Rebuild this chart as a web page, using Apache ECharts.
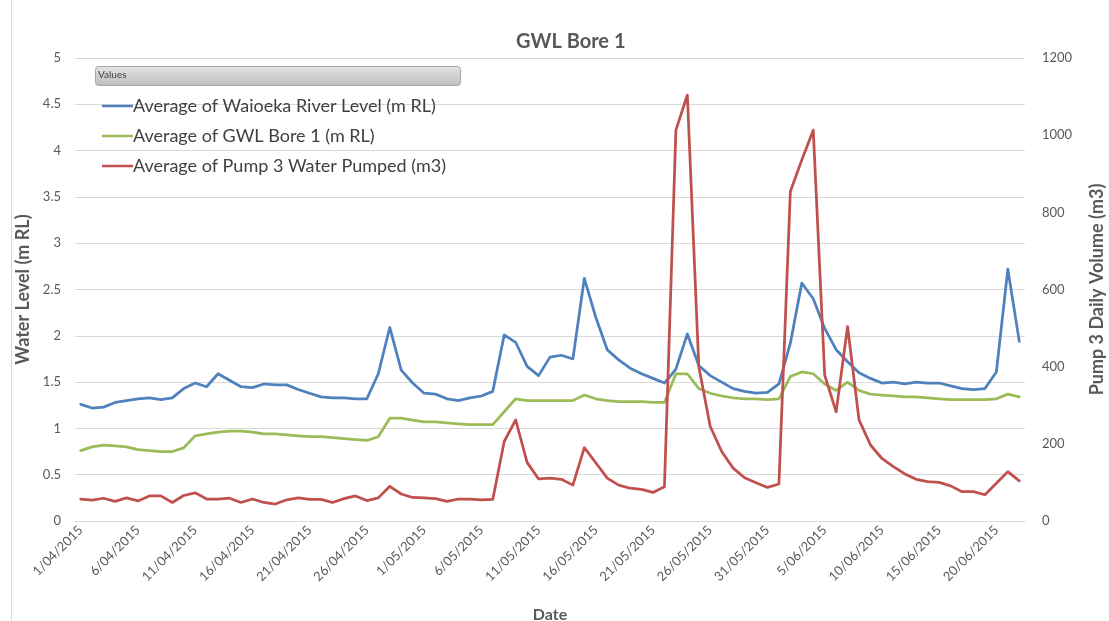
<!DOCTYPE html>
<html>
<head>
<meta charset="utf-8">
<title>GWL Bore 1</title>
<script src="https://cdn.jsdelivr.net/npm/echarts@6/dist/echarts.min.js"></script>
<style>
  html, body { margin: 0; padding: 0; background: #ffffff; }
  #chart { width: 1109px; height: 621px; }
</style>
</head>
<body>
<div id="chart"></div>
<script>
// Daily dates, 1 April 2015 to 22 June 2015
const startDate = new Date(2015, 3, 1);
const dayCount = 83;
const dates = [];
for (let i = 0; i < dayCount; i++) {
  const d = new Date(startDate.getFullYear(), startDate.getMonth(), startDate.getDate() + i);
  const mm = String(d.getMonth() + 1).padStart(2, '0');
  dates.push(d.getDate() + '/' + mm + '/' + d.getFullYear());
}

// Average of Waioeka River Level (m RL)
const riverLevel = [
  1.26, 1.22, 1.23, 1.28, 1.30, 1.32, 1.33, 1.31, 1.33, 1.43,
  1.49, 1.45, 1.59, 1.52, 1.45, 1.44, 1.48, 1.47, 1.47, 1.42,
  1.38, 1.34, 1.33, 1.33, 1.32, 1.32, 1.59, 2.09, 1.63, 1.49,
  1.38, 1.37, 1.32, 1.30, 1.33, 1.35, 1.40, 2.01, 1.93, 1.67,
  1.57, 1.77, 1.79, 1.75, 2.62, 2.20, 1.85, 1.74, 1.65, 1.59,
  1.54, 1.49, 1.64, 2.02, 1.68, 1.57, 1.50, 1.43, 1.40, 1.38,
  1.39, 1.48, 1.92, 2.57, 2.40, 2.08, 1.85, 1.72, 1.60, 1.54,
  1.49, 1.50, 1.48, 1.50, 1.49, 1.49, 1.46, 1.43, 1.42, 1.43,
  1.61, 2.72, 1.94
];

// Average of GWL Bore 1 (m RL)
const boreLevel = [
  0.76, 0.80, 0.82, 0.81, 0.80, 0.77, 0.76, 0.75, 0.75, 0.79,
  0.92, 0.94, 0.96, 0.97, 0.97, 0.96, 0.94, 0.94, 0.93, 0.92,
  0.91, 0.91, 0.90, 0.89, 0.88, 0.87, 0.91, 1.11, 1.11, 1.09,
  1.07, 1.07, 1.06, 1.05, 1.04, 1.04, 1.04, 1.18, 1.32, 1.30,
  1.30, 1.30, 1.30, 1.30, 1.36, 1.32, 1.30, 1.29, 1.29, 1.29,
  1.28, 1.28, 1.59, 1.59, 1.43, 1.38, 1.35, 1.33, 1.32, 1.32,
  1.31, 1.32, 1.56, 1.61, 1.59, 1.48, 1.41, 1.50, 1.41, 1.37,
  1.36, 1.35, 1.34, 1.34, 1.33, 1.32, 1.31, 1.31, 1.31, 1.31,
  1.32, 1.37, 1.34
];

// Average of Pump 3 Water Pumped (m3)
const pumpVolume = [
  57, 54, 59, 51, 60, 52, 65, 65, 48, 66,
  73, 57, 57, 59, 48, 57, 48, 44, 55, 60,
  56, 56, 48, 58, 65, 53, 60, 90, 70, 61,
  60, 58, 51, 57, 57, 55, 56, 206, 262, 152,
  109, 111, 108, 93, 190, 151, 111, 93, 85, 82,
  74, 89, 1013, 1104, 400, 245, 180, 137, 112, 99,
  87, 96, 854, 936, 1013, 378, 283, 504, 262, 197,
  162, 141, 122, 108, 102, 100, 91, 76, 76, 68,
  98, 128, 104
];

const seriesNames = [
  'Average of Waioeka River Level (m RL)',
  'Average of GWL Bore 1 (m RL)',
  'Average of Pump 3 Water Pumped (m3)'
];
const seriesColors = ['#4F81BD', '#9BBB59', '#C0504D'];

const textColor = '#595959';
const fontFamily = 'Lato, "Open Sans", "Liberation Sans", sans-serif';

const chart = echarts.init(document.getElementById('chart'), null, { renderer: 'canvas' });

function lineSeries(name, data, color, axisIndex) {
  return {
    name: name,
    type: 'line',
    data: data,
    yAxisIndex: axisIndex,
    showSymbol: false,
    symbol: 'none',
    smooth: false,
    lineStyle: { color: color, width: 2.75, cap: 'round', join: 'round' },
    itemStyle: { color: color },
    emphasis: { disabled: true },
    animation: false
  };
}

chart.setOption({
  animation: false,
  backgroundColor: '#ffffff',
  textStyle: { fontFamily: fontFamily },
  title: {
    text: 'GWL Bore 1',
    left: 511,
    top: 27,
    textStyle: { color: textColor, fontSize: 20, fontWeight: 'bold', fontFamily: fontFamily }
  },
  legend: {
    orient: 'vertical',
    left: 97,
    top: 92,
    itemGap: 12,
    itemWidth: 31,
    itemHeight: 2.5,
    icon: 'rect',
    data: seriesNames,
    textStyle: { color: '#404040', fontSize: 18, fontFamily: fontFamily, padding: [0, 0, 0, -5] }
  },
  grid: {
    left: 75, right: 84, top: 58, bottom: 100,
    containLabel: false,
    outerBoundsMode: 'none'
  },
  xAxis: {
    type: 'category',
    data: dates,
    boundaryGap: true,
    name: 'Date',
    nameLocation: 'middle',
    nameGap: 86,
    nameTextStyle: { color: textColor, fontSize: 16, fontWeight: 'bold' },
    axisLine: { show: true, lineStyle: { color: '#D9D9D9', width: 1 } },
    axisTick: { show: false },
    axisLabel: {
      interval: 4,
      rotate: 45,
      color: textColor,
      fontSize: 13,
      margin: 7
    },
    splitLine: { show: false }
  },
  yAxis: [
    {
      type: 'value',
      min: 0,
      max: 5,
      interval: 0.5,
      name: 'Water Level (m RL)',
      nameLocation: 'middle',
      nameGap: 34,
      nameTextStyle: { color: textColor, fontSize: 18, fontWeight: 'bold' },
      axisLine: { show: false },
      axisTick: { show: false },
      axisLabel: { color: textColor, fontSize: 13, margin: 14 },
      splitLine: { show: true, lineStyle: { color: '#D9D9D9', width: 1 } }
    },
    {
      type: 'value',
      min: 0,
      max: 1200,
      interval: 200,
      name: 'Pump 3 Daily Volume (m3)',
      nameLocation: 'middle',
      nameGap: 63,
      nameTextStyle: { color: textColor, fontSize: 18, fontWeight: 'bold' },
      axisLine: { show: false },
      axisTick: { show: false },
      axisLabel: { color: textColor, fontSize: 13, margin: 17, formatter: (v) => String(v) },
      splitLine: { show: false }
    }
  ],
  graphic: [
    {
      // chart area edge on the left
      type: 'line',
      shape: { x1: 11.5, y1: 0, x2: 11.5, y2: 621 },
      style: { stroke: '#D9D9D9', lineWidth: 1 },
      silent: true
    },
    {
      // pivot field button
      type: 'rect',
      left: 95,
      top: 66,
      shape: { width: 365, height: 19, r: 3 },
      style: {
        fill: new echarts.graphic.LinearGradient(0, 0, 0, 1, [
          { offset: 0, color: '#E4E4E4' },
          { offset: 1, color: '#BDBDBD' }
        ]),
        stroke: '#A6A6A6',
        lineWidth: 1
      },
      silent: true,
      z: 10
    },
    {
      type: 'text',
      left: 98,
      top: 70,
      style: { text: 'Values', fill: '#404040', fontSize: 10, fontFamily: fontFamily },
      silent: true,
      z: 11
    }
  ],
  series: [
    lineSeries(seriesNames[0], riverLevel, seriesColors[0], 0),
    lineSeries(seriesNames[1], boreLevel, seriesColors[1], 0),
    lineSeries(seriesNames[2], pumpVolume, seriesColors[2], 1)
  ]
});
</script>
</body>
</html>
